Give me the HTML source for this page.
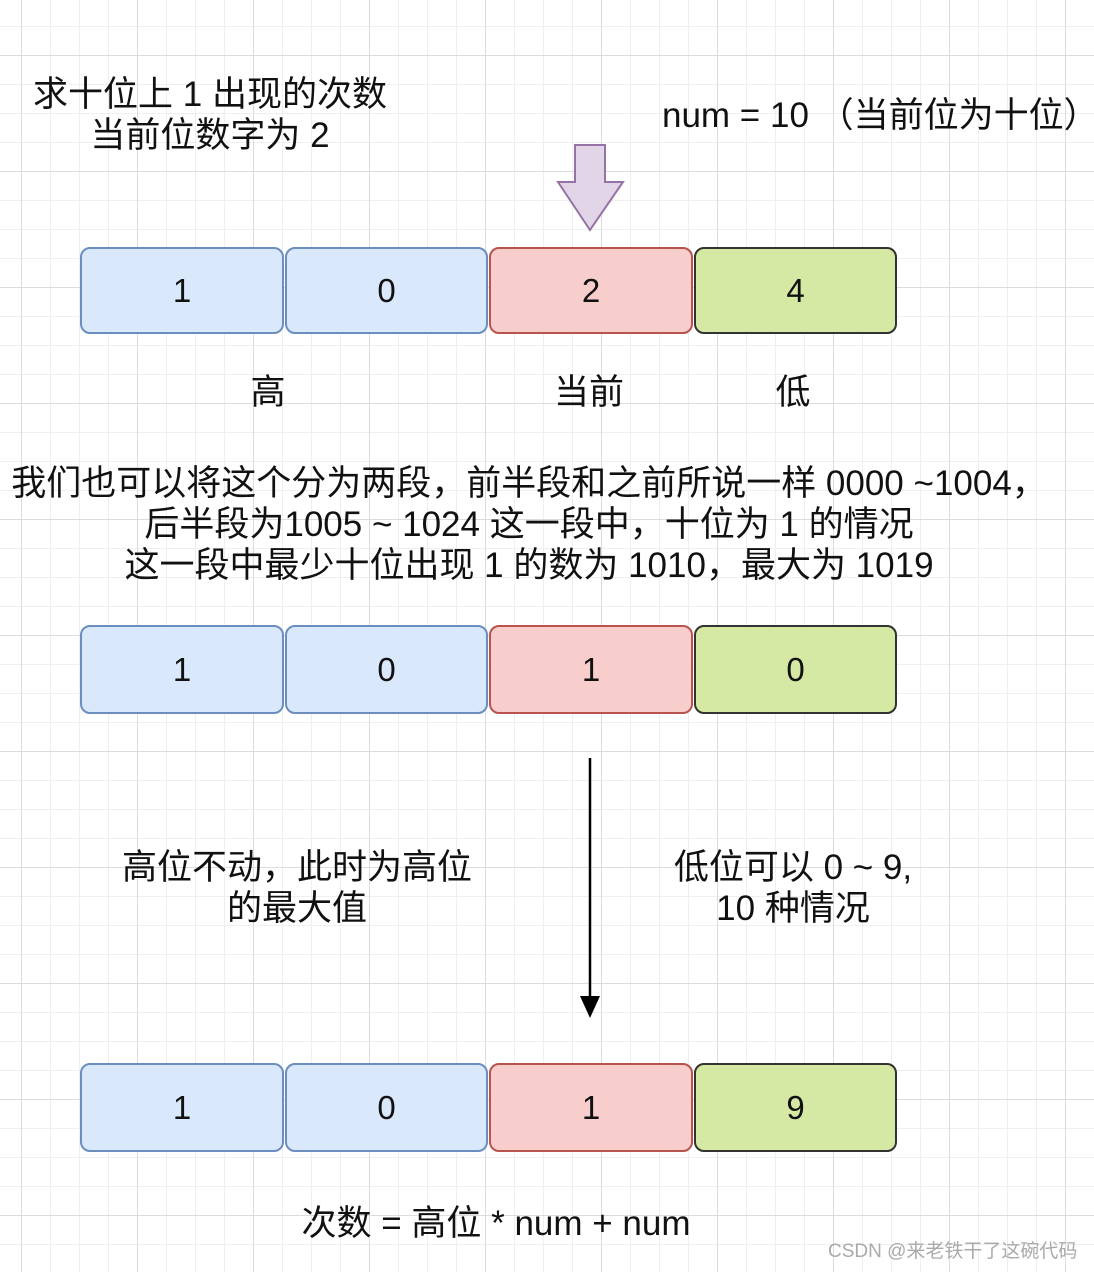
<!DOCTYPE html>
<html><head><meta charset="utf-8"><style>
html,body{margin:0;padding:0}
body{width:1094px;height:1272px;position:relative;overflow:hidden;background:#fff;
background-image:
linear-gradient(to right,#dcdcdc 1px,transparent 1px),
linear-gradient(to bottom,#dcdcdc 1px,transparent 1px),
linear-gradient(to right,#efefef 1px,transparent 1px),
linear-gradient(to bottom,#efefef 1px,transparent 1px);
background-size:116px 116px,116px 116px,29px 29px,29px 29px;
background-position:21px 0,0 55px,21px 0,0 26px;
font-family:"Liberation Sans","Noto Sans CJK SC",sans-serif;color:#111}
.t{position:absolute;text-align:center;font-size:35px;line-height:41px;white-space:nowrap}
.b{position:absolute;box-sizing:border-box;border:2.5px solid;border-radius:10px;font-size:33px;display:flex;align-items:center;justify-content:center}
.bl{background:#dae8fc;border-color:#6c8ebf}
.rd{background:#f8cecc;border-color:#b85450}
.gr{background:#d5e8a4;border-color:#333}
</style></head><body>
<div class="t" style="left:10px;width:400px;top:74px">求十位上 1 出现的次数<br>当前位数字为 2</div>
<div class="t" style="left:662px;top:95px;text-align:left">num = 10 （当前位为十位）</div>
<svg style="position:absolute;left:0;top:0" width="1094" height="1272">
<polygon points="575,145 605,145 605,182 623,182 590,230 558,182 575,182" fill="#e1d5e7" stroke="#9673a6" stroke-width="2"/>
<line x1="590" y1="758" x2="590" y2="1000" stroke="#000" stroke-width="2.5"/>
<polygon points="580,996 600,996 590,1018" fill="#000"/>
</svg>
<div class="b bl" style="left:80px;top:247px;width:204px;height:87px">1</div>
<div class="b bl" style="left:285px;top:247px;width:203px;height:87px">0</div>
<div class="b rd" style="left:489px;top:247px;width:204px;height:87px">2</div>
<div class="b gr" style="left:694px;top:247px;width:203px;height:87px">4</div>
<div class="t" style="left:218px;width:100px;top:372px">高</div>
<div class="t" style="left:539px;width:100px;top:372px">当前</div>
<div class="t" style="left:743px;width:100px;top:372px">低</div>
<div class="t" style="left:9px;width:1040px;top:463px">我们也可以将这个分为两段，前半段和之前所说一样 0000 ~1004，<br>后半段为1005 ~ 1024 这一段中，十位为 1 的情况<br>这一段中最少十位出现 1 的数为 1010，最大为 1019</div>
<div class="b bl" style="left:80px;top:625px;width:204px;height:89px">1</div>
<div class="b bl" style="left:285px;top:625px;width:203px;height:89px">0</div>
<div class="b rd" style="left:489px;top:625px;width:204px;height:89px">1</div>
<div class="b gr" style="left:694px;top:625px;width:203px;height:89px">0</div>
<div class="t" style="left:97px;width:400px;top:847px">高位不动，此时为高位<br>的最大值</div>
<div class="t" style="left:638px;width:310px;top:847px">低位可以 0 ~ 9,<br>10 种情况</div>
<div class="b bl" style="left:80px;top:1063px;width:204px;height:89px">1</div>
<div class="b bl" style="left:285px;top:1063px;width:203px;height:89px">0</div>
<div class="b rd" style="left:489px;top:1063px;width:204px;height:89px">1</div>
<div class="b gr" style="left:694px;top:1063px;width:203px;height:89px">9</div>
<div class="t" style="left:246px;width:500px;top:1203px">次数 = 高位 * num + num</div>
<div class="t" style="left:828px;top:1240px;font-size:19px;line-height:24px;color:#aaa;text-align:left">CSDN @来老铁干了这碗代码</div>
</body></html>
